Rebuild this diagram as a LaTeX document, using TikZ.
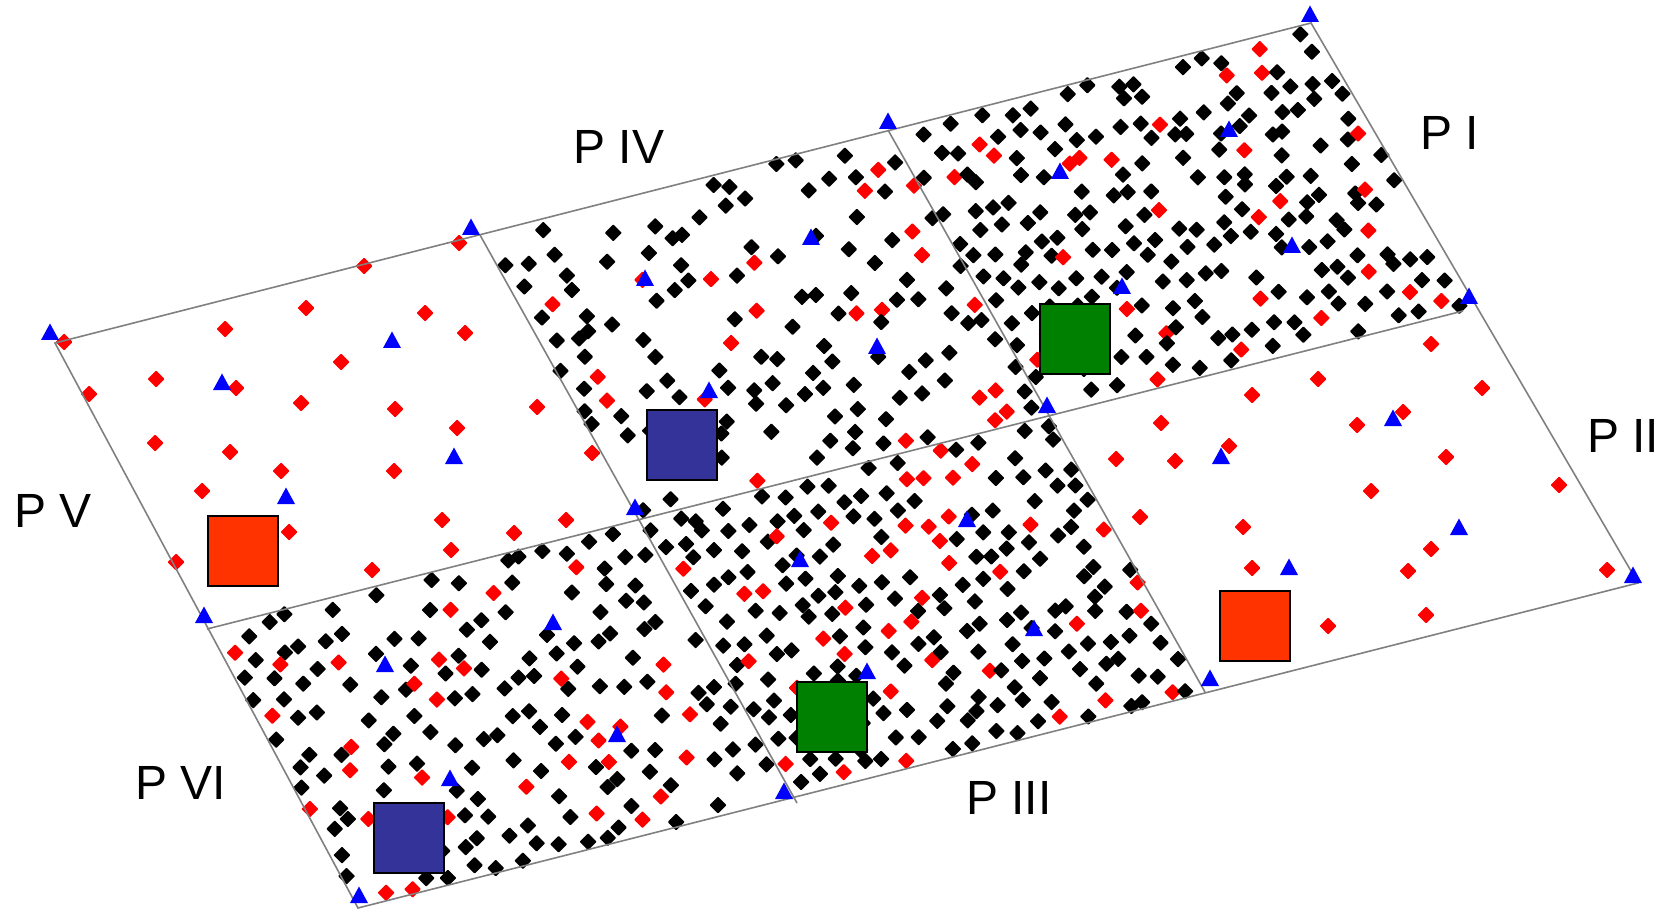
\documentclass[tikz,border=0pt]{standalone}
\usepackage{fontspec}
\setmainfont{Liberation Sans}
\usetikzlibrary{calc}
\definecolor{gridgray}{HTML}{808080}
\definecolor{mred}{HTML}{FF0000}
\definecolor{mblue}{HTML}{0000FF}
\definecolor{sqred}{HTML}{FF3300}
\definecolor{sqblue}{HTML}{333399}
\definecolor{sqgreen}{HTML}{008000}
% jittered grid of points in the cell A B C D
\newcommand\gridpts[8]{%
  \foreach \ii in {1,...,#5}{%
    \foreach \jj in {1,...,#6}{%
      \pgfmathsetmacro\uu{(\ii-0.5+0.6*(rnd-0.5))/#5}%
      \pgfmathsetmacro\vv{(\jj-0.5+0.6*(rnd-0.5))/#6}%
      \pgfmathsetmacro\rr{rnd}%
      \pgfmathtruncatemacro\kind{\rr<#7 ? 1 : (\rr<#7+#8 ? 2 : 0)}%
      \ifcase\kind\relax
      \or \pic at ($($(#1)!\uu!(#2)$)!\vv!($(#4)!\uu!(#3)$)$) {bd};
      \or \pic at ($($(#1)!\uu!(#2)$)!\vv!($(#4)!\uu!(#3)$)$) {rd};
      \fi
    }}}
\begin{document}
\begin{tikzpicture}[x=1pt,y=-1pt,
  bd/.pic={\fill[black,rounded corners=0.8pt] (0,-8.5)--(8.5,0)--(0,8.5)--(-8.5,0)--cycle;},
  rd/.pic={\fill[mred,rounded corners=0.8pt] (0,-8.5)--(8.5,0)--(0,8.5)--(-8.5,0)--cycle;},
  tri/.pic={\fill[mblue] (-9,7)--(9,7)--(0,-9.5)--cycle;},
  sq/.style={draw=black, line width=1.5pt, minimum size=70pt, inner sep=0pt},
  lbl/.style={font=\fontsize{48}{56}\selectfont, inner sep=0pt},
  gridline/.style={draw=gridgray, line width=1.6pt}]
\useasboundingbox (0,0) rectangle (1666,909);
\pgfmathsetseed{4711}
% grid corners
\coordinate (TL) at (55,343);
\coordinate (T1) at (480,235);
\coordinate (T2) at (888,130);
\coordinate (TR) at (1311,23);
\coordinate (ML) at (207,629);
\coordinate (M1) at (638,519);
\coordinate (M2) at (1050,413);
\coordinate (MR) at (1463,311);
\coordinate (MRe) at (1475,308);
\coordinate (BL) at (358,908);
\coordinate (B1) at (794,797);
\coordinate (B1x) at (797,803);
\coordinate (B2) at (1205,692);
\coordinate (BR) at (1638,583);
% black and red points in the dense cells
\gridpts{T1}{T2}{M2}{M1}{19}{14}{0.50}{0.10}
\gridpts{T2}{TR}{MRe}{M2}{20}{14}{0.68}{0.11}
\gridpts{ML}{M1}{B1}{BL}{20}{13}{0.58}{0.10}
\gridpts{M1}{M2}{B2}{B1}{19}{14}{0.76}{0.11}
% red points in P V
\foreach \p in {(64,342),(364,266),(459,243),(306,308),(225,329),(425,313),(465,333),
  (89,394),(156,379),(236,388),(341,362),(301,403),(395,409),(537,407),(155,443),
  (230,452),(457,428),(281,471),(394,471),(202,491),(289,532),(442,520),(514,533),
  (566,520),(176,562),(372,570),(451,550),(592,453)}
  \pic at \p {rd};
% red points in P II
\foreach \p in {(1431,344),(1318,379),(1482,388),(1252,395),(1403,412),(1161,423),
  (1357,425),(1229,446),(1116,459),(1175,461),(1446,457),(1559,485),(1371,491),
  (1140,517),(1243,527),(1431,549),(1408,571),(1252,568),(1328,626),(1426,615),(1607,570)}
  \pic at \p {rd};
% grid lines
\draw[gridline] (TL) -- (TR) -- (BR) -- (BL) -- cycle;
\draw[gridline] (ML) -- (MR);
\draw[gridline] (T1) -- (B1x);
\draw[gridline] (T2) -- (B2);
% blue triangles
\foreach \p in {(50,333),(1310,15),(1469,297),(1633,576),(359,896),(204,616),
  (471,228),(888,122),(784,792),(1210,679),(1047,406),(635,508),
  (392,341),(222,383),(454,457),(286,497),(645,279),(811,238),(877,347),(709,391),
  (1060,172),(1229,130),(1292,246),(1122,287),(1393,419),(1221,457),(1459,528),
  (1289,568),(967,520),(800,560),(1034,629),(867,672),(553,623),(385,665),(617,735),(450,779)}
  \pic at \p {tri};
% squares
\node[sq, fill=sqred]   (sqV)   at (243,551) {};
\node[sq, fill=sqblue]  (sqIV)  at (682,445) {};
\node[sq, fill=sqgreen] (sqI)   at (1075,339) {};
\node[sq, fill=sqred]   (sqII)  at (1255,626) {};
\node[sq, fill=sqgreen] (sqIII) at (832,717) {};
\node[sq, fill=sqblue]  (sqVI)  at (409,838) {};
% labels
\node[lbl] (lIV)  at (619,147) {P IV};
\node[lbl] (lI)   at (1450,133) {P I};
\node[lbl] (lII)  at (1623,436) {P II};
\node[lbl] (lV)   at (53,511) {P V};
\node[lbl] (lVI)  at (181,783) {P VI};
\node[lbl] (lIII) at (1009,798) {P III};
\end{tikzpicture}
\end{document}
